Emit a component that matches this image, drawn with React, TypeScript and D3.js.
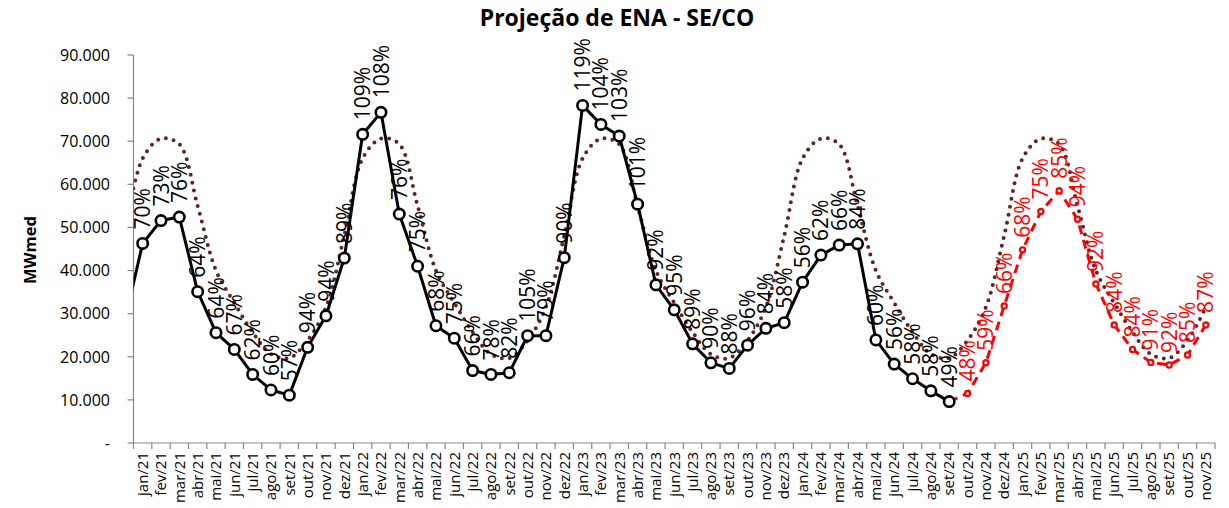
import React from "react";
import * as d3 from "d3";

const W = 1229;
const H = 508;

const months = [
  "jan/21","fev/21","mar/21","abr/21","mai/21","jun/21","jul/21","ago/21","set/21","out/21","nov/21","dez/21",
  "jan/22","fev/22","mar/22","abr/22","mai/22","jun/22","jul/22","ago/22","set/22","out/22","nov/22","dez/22",
  "jan/23","fev/23","mar/23","abr/23","mai/23","jun/23","jul/23","ago/23","set/23","out/23","nov/23","dez/23",
  "jan/24","fev/24","mar/24","abr/24","mai/24","jun/24","jul/24","ago/24","set/24","out/24","nov/24","dez/24",
  "jan/25","fev/25","mar/25","abr/25","mai/25","jun/25","jul/25","ago/25","set/25","out/25","nov/25",
];

// value of dez/20 (off the left edge, only the segment into jan/21 is visible)
const prevObserved = 27900;

// observed ENA, jan/21 .. set/24
const observed = [
  46300, 51600, 52400, 35100, 25600, 21700, 15900, 12300, 11100, 22200, 29500, 42900,
  71600, 76700, 53100, 41000, 27200, 24300, 16800, 15900, 16300, 24900, 24900, 42990,
  78300, 73900, 71200, 55400, 36700, 30900, 23000, 18600, 17300, 22700, 26600, 27900,
  37300, 43600, 45900, 46200, 23900, 18300, 14900, 12100, 9600,
];
const observedPct = [
  70, 73, 76, 64, 64, 67, 62, 60, 57, 94, 94, 89,
  109, 108, 76, 75, 68, 75, 66, 78, 82, 105, 79, 90,
  119, 104, 103, 101, 92, 95, 89, 90, 88, 96, 84, 58,
  56, 62, 66, 84, 60, 56, 58, 58, 49,
];

// forecast ENA, out/24 .. nov/25
const forecast = [11500, 18600, 31800, 44800, 53700, 58500, 51900, 36900, 27400, 21700, 18700, 18100, 20400, 27400];
const forecastPct = [48, 59, 66, 68, 75, 85, 94, 92, 84, 84, 91, 92, 85, 87];

// long-term average (MLT), jan .. dez
const mltMonthly = [66000, 70600, 69300, 55000, 40000, 32500, 25700, 20600, 19700, 23800, 31500, 48100];

const yTicks = [0, 10000, 20000, 30000, 40000, 50000, 60000, 70000, 80000, 90000];

const fmt = (v: number) => (v === 0 ? "-" : d3.format(",")(v).replace(/,/g, "."));

export default function App() {
  const left = 133.5;
  const right = 1215;
  const top = 55;
  const bottom = 443;

  const x = d3.scaleBand<string>().domain(months).range([left, right]).padding(0);
  const bw = x.bandwidth();
  const cx = (i: number) => (x(months[0]) as number) + bw / 2 + i * bw;
  const y = d3.scaleLinear().domain([0, 90000]).range([bottom, top]);

  const lineStraight = d3
    .line<[number, number]>()
    .x((d) => d[0])
    .y((d) => d[1]);
  const lineSmooth = d3
    .line<[number, number]>()
    .x((d) => d[0])
    .y((d) => d[1])
    .curve(d3.curveCatmullRom.alpha(0.5));

  // MLT: dez/20 then every month
  const mltPts: [number, number][] = [[cx(-1), y(mltMonthly[11])]];
  months.forEach((_, i) => mltPts.push([cx(i), y(mltMonthly[i % 12])]));

  const obsPts: [number, number][] = [[cx(-1), y(prevObserved)]];
  observed.forEach((v, i) => obsPts.push([cx(i), y(v)]));

  const fcStart = observed.length;
  const fcPts: [number, number][] = [[cx(fcStart - 1), y(observed[fcStart - 1])]];
  forecast.forEach((v, i) => fcPts.push([cx(fcStart + i), y(v)]));

  const labelFont = "'Open Sans', sans-serif";
  const gap = 14;

  return (
    <svg width={W} height={H} style={{ position: "absolute", left: 0, top: 0, background: "#fff" }}>
      <defs>
        <clipPath id="plot">
          <rect x={left} y={0} width={right - left + 6} height={bottom} />
        </clipPath>
      </defs>
      <rect x={0} y={0} width={W} height={H} fill="#fff" />

      {/* title */}
      <text
        x={617}
        y={26}
        textAnchor="middle"
        fontFamily="'Open Sans', sans-serif"
        fontWeight="bold"
        fontSize={23}
        fill="#000"
      >
        Projeção de ENA - SE/CO
      </text>

      {/* y axis label */}
      <text
        transform={`translate(36,250) rotate(-90)`}
        textAnchor="middle"
        fontFamily="'Open Sans', sans-serif"
        fontWeight="bold"
        fontSize={16.5}
        fill="#000"
      >
        MWmed
      </text>

      {/* y axis */}
      <line x1={left} x2={left} y1={top} y2={bottom + 6} stroke="#868686" strokeWidth={1.2} />
      {yTicks.map((t) => (
        <g key={t}>
          <line x1={left - 6} x2={left} y1={y(t)} y2={y(t)} stroke="#868686" strokeWidth={1.2} />
          <text
            x={110}
            y={y(t)}
            dy="0.36em"
            textAnchor="end"
            fontFamily="'Open Sans', sans-serif"
            fontSize={16}
            fill="#000"
          >
            {fmt(t)}
          </text>
        </g>
      ))}

      {/* x axis */}
      <line x1={left} x2={right} y1={bottom} y2={bottom} stroke="#868686" strokeWidth={1.2} />
      {months.map((m) => (
        <line
          key={"t" + m}
          x1={(x(m) as number) + bw}
          x2={(x(m) as number) + bw}
          y1={bottom}
          y2={bottom + 6}
          stroke="#868686"
          strokeWidth={1.2}
        />
      ))}
      {months.map((m, i) => (
        <text
          key={"l" + m}
          transform={`translate(${cx(i)},${bottom + 9}) rotate(-90)`}
          textAnchor="end"
          dy="0.35em"
          fontFamily="'Open Sans', sans-serif"
          fontSize={15}
          fill="#000"
        >
          {m}
        </text>
      ))}

      <g clipPath="url(#plot)">
        {/* MLT dotted */}
        <path
          d={lineSmooth(mltPts) || ""}
          fill="none"
          stroke="#632523"
          strokeWidth={4}
          strokeDasharray="0 8"
          strokeLinecap="round"
        />
        {/* observed */}
        <path d={lineStraight(obsPts) || ""} fill="none" stroke="#000" strokeWidth={3} strokeLinejoin="round" />
        {/* forecast */}
        <path
          d={lineStraight(fcPts) || ""}
          fill="none"
          stroke="#ff0000"
          strokeWidth={3}
          strokeDasharray="9 6"
        />
      </g>

      {observed.map((v, i) => (
        <circle key={"o" + i} cx={cx(i)} cy={y(v)} r={5.2} fill="#fff" stroke="#000" strokeWidth={2.6} />
      ))}
      {forecast.map((v, i) => (
        <circle
          key={"f" + i}
          cx={cx(fcStart + i)}
          cy={y(v)}
          r={2.6}
          fill="#fff"
          stroke="#ff0000"
          strokeWidth={2.2}
        />
      ))}

      {/* labels */}
      {observed.map((v, i) => (
        <text
          key={"ol" + i}
          transform={`translate(${cx(i)},${y(v) - gap}) rotate(-90)`}
          dy="0.36em"
          textAnchor="start"
          fontFamily={labelFont}
          fontSize={21}
          fill="#000"
        >
          {observedPct[i] + "%"}
        </text>
      ))}
      {forecast.map((v, i) => (
        <text
          key={"fl" + i}
          transform={`translate(${cx(fcStart + i)},${y(v) - gap + 2}) rotate(-90)`}
          dy="0.36em"
          textAnchor="start"
          fontFamily={labelFont}
          fontSize={21}
          fill="#ff0000"
        >
          {forecastPct[i] + "%"}
        </text>
      ))}
    </svg>
  );
}
